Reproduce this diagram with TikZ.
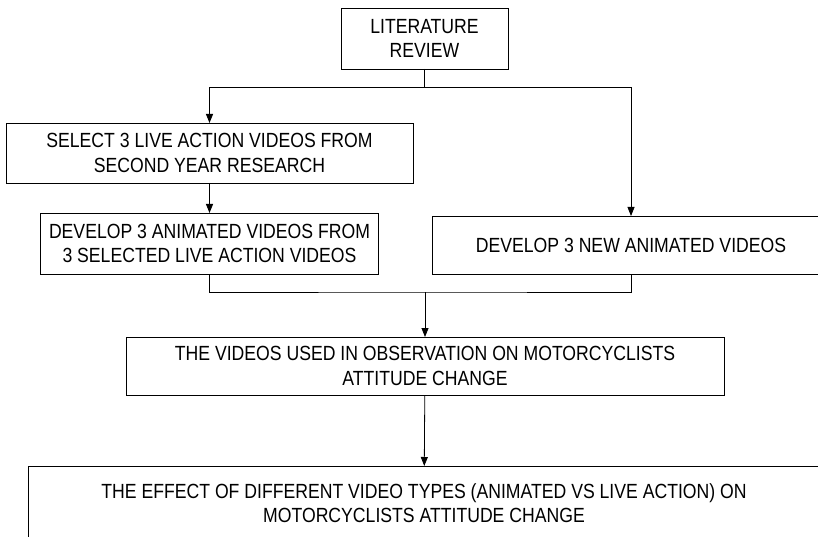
\documentclass[tikz,border=0pt]{standalone}
\usepackage{fontspec}
\setmainfont{Liberation Sans}[FakeStretch=0.86]
\usetikzlibrary{positioning,arrows.meta}

\begin{document}
\begin{tikzpicture}[x=1pt, y=-1pt,
BoxStyle/.style={draw, line width=0.8pt, align=center, inner sep=0pt,
                font=\fontsize{20.5}{24.5}\selectfont, outer sep=0pt},
ArrStyle/.style={-{Triangle[length=9pt, width=7pt]}, line width=0.8pt},]
\useasboundingbox (0,0) rectangle (818,537);
\clip (0,0) rectangle (818,537);

\node [BoxStyle, minimum width=167, minimum height=61] at (424.5, 38.5) (lit)
      {LITERATURE\\REVIEW};
\node [BoxStyle, minimum width=407, minimum height=60] at (209.5, 153) (sel)
      {SELECT 3 LIVE ACTION VIDEOS FROM\\SECOND YEAR RESEARCH};
\node [BoxStyle, minimum width=338, minimum height=61] at (209.5, 243.5) (devA)
      {DEVELOP 3 ANIMATED VIDEOS FROM\\3 SELECTED LIVE ACTION VIDEOS};
\node [BoxStyle, minimum width=398, minimum height=58] at (631, 245) (devB)
      {DEVELOP 3 NEW ANIMATED VIDEOS};
\node [BoxStyle, minimum width=598, minimum height=58] at (425, 366) (obs)
      {THE VIDEOS USED IN OBSERVATION ON MOTORCYCLISTS\\ATTITUDE CHANGE};
\node [BoxStyle, minimum width=792, minimum height=74] at (424, 503) (eff)
      {THE EFFECT OF DIFFERENT VIDEO TYPES (ANIMATED VS LIVE ACTION) ON\\MOTORCYCLISTS ATTITUDE CHANGE};

% branch points
\coordinate (split) at (424.5, 87);
\coordinate (join) at (425, 292);

\draw [line width=0.8pt] (lit.south) -- (split);
\draw [ArrStyle] (split) -| (sel.north);
\draw [ArrStyle] (split) -| (devB.north);
\draw [ArrStyle] (sel) -- (devA);
\draw [line width=0.8pt] (devA.south) |- (join) -| (devB.south);
\draw [ArrStyle] (join) -- (obs.north);
\draw [ArrStyle] (obs) -- (eff);
\end{tikzpicture}
\end{document}
